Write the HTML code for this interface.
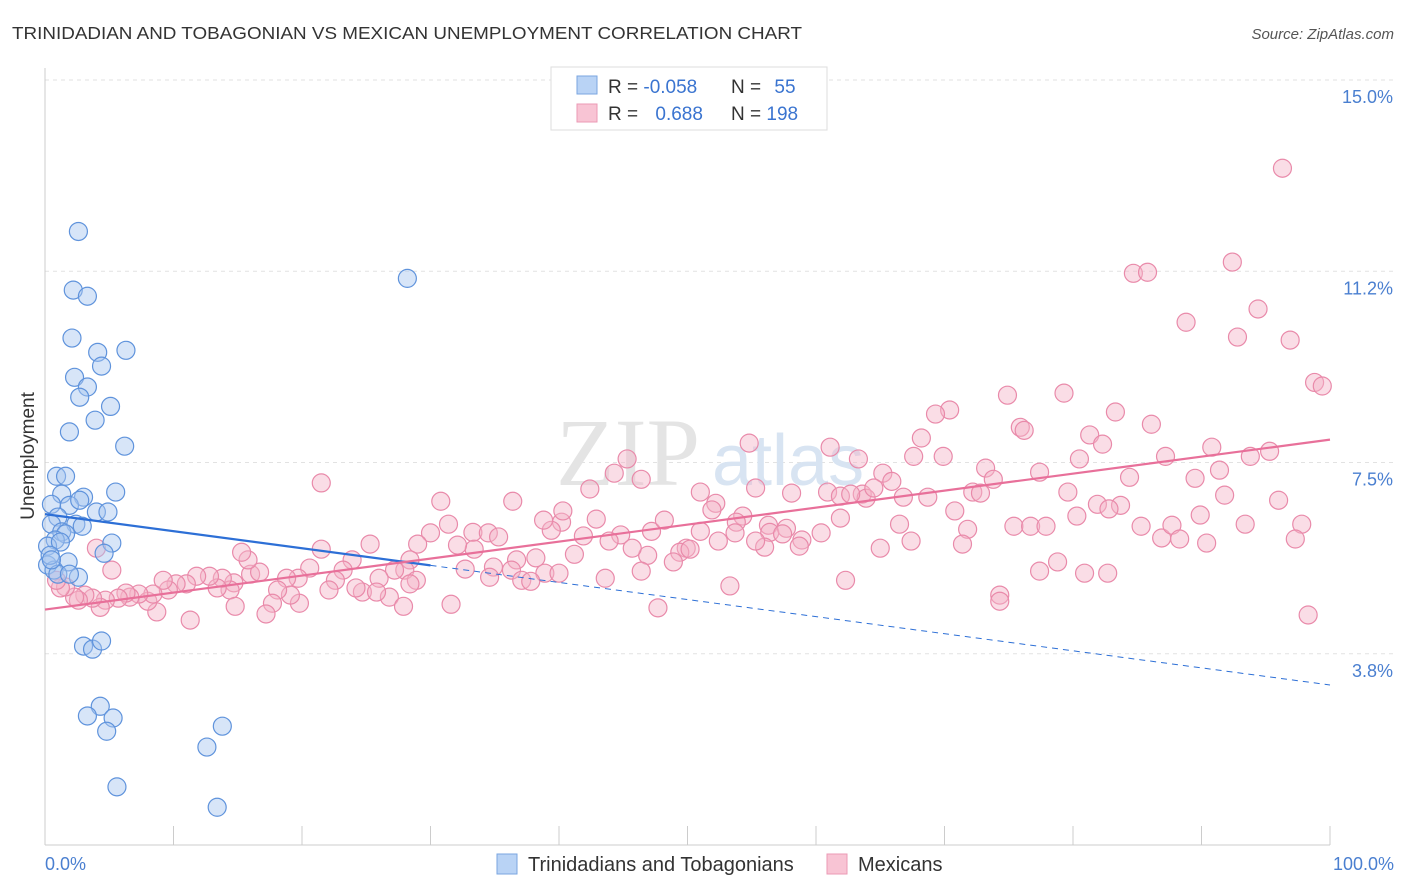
<!DOCTYPE html>
<html><head><meta charset="utf-8">
<style>
body{margin:0;background:#fff;font-family:"Liberation Sans",sans-serif;}
#wrap{position:relative;width:1406px;height:892px;overflow:hidden;}
svg{position:absolute;left:0;top:0;}
</style></head>
<body>
<div id="wrap">
<svg id="chart" width="1406" height="892">
  <text x="12" y="39" font-size="17.5" fill="#333" textLength="790" lengthAdjust="spacingAndGlyphs">TRINIDADIAN AND TOBAGONIAN VS MEXICAN UNEMPLOYMENT CORRELATION CHART</text>
  <text x="1394" y="39" font-size="15" fill="#555" font-style="italic" text-anchor="end">Source: ZipAtlas.com</text>
  <g id="grid"></g>
  <text x="700" y="485" font-size="96" fill="#e4e4e4" font-family="Liberation Serif" text-anchor="end">ZIP</text>
  <text x="712" y="485" font-size="72" fill="#d8e4f2">atlas</text>
  <line x1="45" y1="68" x2="45" y2="845" stroke="#ccc"/>
  <line x1="45" y1="845" x2="1330" y2="845" stroke="#ccc"/>
  <g id="xticks"></g>
  <g id="ylabels"></g>
  <text x="34" y="456" font-size="19" fill="#333" text-anchor="middle" transform="rotate(-90 34 456)">Unemployment</text>
  <text x="45" y="870" font-size="18" fill="#4a7fd0">0.0%</text>
  <text x="1394" y="870" font-size="18" fill="#4a7fd0" text-anchor="end">100.0%</text>
  <g id="pink"></g>
  <g id="blue"></g>
  <g id="trends"></g>
  <g>
    <rect x="551" y="67" width="276" height="63" fill="#fff" stroke="#ddd"/>
    <rect x="577" y="76" width="20" height="18" fill="#b9d3f5" stroke="#7aa6e0"/>
    <rect x="577" y="104" width="20" height="18" fill="#f8c4d4" stroke="#eb9ab5"/>
    <text x="608" y="93" font-size="19" fill="#333">R = <tspan fill="#3a74d0">-0.058</tspan></text>
    <text x="731" y="93" font-size="19" fill="#333">N = <tspan fill="#3a74d0" dx="8">55</tspan></text>
    <text x="608" y="120" font-size="19" fill="#333">R = <tspan fill="#3a74d0" dx="12">0.688</tspan></text>
    <text x="731" y="120" font-size="19" fill="#333">N = <tspan fill="#3a74d0">198</tspan></text>
  </g>
  <g>
    <rect x="497" y="854" width="20" height="20" fill="#b9d3f5" stroke="#7aa6e0"/>
    <text x="528" y="871" font-size="20" fill="#333">Trinidadians and Tobagonians</text>
    <rect x="827" y="854" width="20" height="20" fill="#f8c4d4" stroke="#eb9ab5"/>
    <text x="858" y="871" font-size="20" fill="#333">Mexicans</text>
  </g>
</svg>
</div>
<script>
const yTicks=[3.75,7.5,11.25,15];
const yTickLabels=["3.8%","7.5%","11.2%","15.0%"];
const xTicks=[0,10,20,30,40,50,60,70,80,90,100];
const blueX=[2.6,2.2,3.3,2.1,4.1,6.3,4.4,2.3,3.3,2.7,5.1,3.9,1.9,6.2,28.2,0.9,1.6,5.5,1.3,3.0,0.5,1.9,2.7,4.0,4.9,1.0,2.4,2.9,0.5,1.3,1.6,0.8,0.2,1.2,5.2,4.6,0.2,1.8,0.7,1.0,2.6,1.9,3.0,3.7,4.4,4.3,3.3,5.3,4.8,13.8,12.6,5.6,13.4,0.4,0.5];
const blueY=[12.03,10.88,10.76,9.94,9.66,9.70,9.39,9.17,8.98,8.78,8.60,8.33,8.10,7.82,11.11,7.23,7.23,6.92,6.88,6.82,6.68,6.66,6.76,6.53,6.53,6.43,6.29,6.25,6.29,6.14,6.10,5.98,5.86,5.94,5.92,5.72,5.49,5.55,5.39,5.31,5.25,5.31,3.90,3.84,4.00,2.72,2.53,2.49,2.23,2.33,1.92,1.14,0.74,5.68,5.59];
const pinkX=[96.3,92.4,84.7,85.8,88.8,94.4,92.8,96.9,98.8,99.4,74.9,79.3,70.4,69.3,83.3,86.1,75.9,76.2,81.3,82.3,68.2,54.8,61.1,90.8,87.2,95.3,93.8,69.9,67.6,63.3,45.3,44.3,46.4,65.2,65.9,73.2,73.8,77.4,80.5,84.4,89.5,91.4,91.8,96.0,81.9,83.7,79.6,72.2,72.8,68.7,66.8,63.6,63.9,60.9,61.9,58.1,55.3,51.0,52.2,51.9,54.3,53.8,56.3,56.4,57.7,57.4,58.9,60.4,61.9,62.7,64.5,66.5,67.4,70.8,71.8,75.4,76.7,77.9,80.3,82.8,85.3,86.9,87.7,88.3,90.4,89.9,93.4,97.8,97.3,98.3,74.3,78.8,80.9,71.4,65.0,58.7,56.0,49.9,49.4,50.2,48.9,46.9,47.2,48.2,44.8,43.9,45.7,42.9,41.9,41.2,40.2,39.4,38.8,40.3,36.7,36.3,37.1,38.2,38.9,40.0,37.8,34.9,34.6,33.3,33.4,32.1,32.7,31.4,30.8,34.5,35.3,36.4,42.4,51.0,52.4,53.7,55.3,46.4,43.6,47.7,53.3,62.3,31.6,30.0,29.0,28.4,28.0,28.9,27.2,26.0,25.3,23.9,23.2,22.6,22.1,24.7,24.2,26.8,27.9,28.4,25.8,21.5,20.6,19.7,18.8,19.8,19.1,18.1,17.7,17.2,16.0,16.7,15.8,15.3,14.7,14.4,13.8,13.4,12.8,11.8,11.0,10.2,9.6,9.2,8.7,8.0,8.4,7.3,6.6,6.3,5.7,5.2,4.7,4.3,3.7,3.1,2.6,2.3,1.6,1.2,0.9,4.0,11.3,14.8,21.5,74.3,82.7,77.4];
const pinkY=[13.27,11.43,11.21,11.23,10.25,10.51,9.96,9.90,9.07,9.00,8.82,8.86,8.53,8.45,8.49,8.25,8.19,8.13,8.04,7.86,7.98,7.88,7.80,7.80,7.62,7.72,7.62,7.62,7.62,7.57,7.57,7.29,7.17,7.29,7.13,7.39,7.17,7.31,7.57,7.21,7.19,7.35,6.86,6.76,6.68,6.66,6.92,6.92,6.90,6.82,6.82,6.88,6.80,6.92,6.84,6.90,7.00,6.92,6.70,6.57,6.45,6.33,6.27,6.13,6.21,6.10,5.98,6.12,6.41,6.88,7.00,6.29,5.96,6.55,6.19,6.25,6.25,6.25,6.45,6.59,6.25,6.02,6.27,6.00,5.92,6.47,6.29,6.29,6.00,4.51,4.90,5.55,5.33,5.90,5.82,5.86,5.84,5.82,5.74,5.80,5.55,5.68,6.15,6.37,6.08,5.96,5.82,6.39,6.06,5.70,6.33,6.17,6.37,6.55,5.59,5.39,5.19,5.63,5.33,5.33,5.17,5.45,5.25,6.13,5.80,5.88,5.41,6.29,6.74,6.12,6.04,6.74,6.98,6.15,5.96,6.12,5.96,5.37,5.23,4.65,5.08,5.19,4.72,6.12,5.90,5.59,5.39,5.19,5.39,5.23,5.90,5.59,5.39,5.19,5.00,4.96,5.04,4.86,4.68,5.12,4.96,5.80,5.43,5.23,5.23,4.74,4.90,5.00,4.74,4.53,5.31,5.35,5.59,5.74,5.14,5.00,5.23,5.04,5.27,5.27,5.12,5.12,5.00,5.19,4.57,4.78,4.92,4.92,4.86,4.94,4.84,5.39,4.80,4.66,4.84,4.90,4.80,4.86,5.06,5.04,5.19,5.82,4.41,4.68,7.10,4.78,5.33,5.37];

const NS="http://www.w3.org/2000/svg";
const X0=45,X1=1330,Y0=845,Ytop=80,YMAX=15;
const sx=v=>X0+(X1-X0)*v/100;
const sy=v=>Y0-(Y0-Ytop)*v/YMAX;
function mk(tag,attrs,parent){const e=document.createElementNS(NS,tag);for(const k in attrs)e.setAttribute(k,attrs[k]);parent.appendChild(e);return e;}
const grid=document.getElementById('grid'),ylab=document.getElementById('ylabels'),xt=document.getElementById('xticks');
yTicks.forEach((t,i)=>{
  const l=mk('line',{x1:X0,x2:1394,y1:sy(t),y2:sy(t),stroke:'#e2e2e2','stroke-dasharray':'4,4'},grid);
  
  
  const tx=mk('text',{x:1393,y:sy(t)+23,'font-size':18,fill:'#4a7fd0','text-anchor':'end'},ylab);
  tx.textContent=yTickLabels[i];
  
  
});
xTicks.forEach(t=>{
  const l=mk('line',{x1:sx(t),x2:sx(t),y1:826,y2:845,stroke:'#ccc'},xt);
  
  
});
function dots(xs,ys,g,fill,stroke,name){
  xs.forEach((x,i)=>{
    const c=mk('circle',{cx:sx(x),cy:sy(ys[i]),r:9,fill:fill,'fill-opacity':0.45,stroke:stroke,'stroke-width':1.2},g);
    
    
  });
}
dots(pinkX,pinkY,document.getElementById('pink'),'#f5b3c8','#e98aaa','mexican-point');
dots(blueX,blueY,document.getElementById('blue'),'#a7c6f0','#5f93dc','trinidadian-point');
function reg(xs,ys){const n=xs.length;let mx=0,my=0;xs.forEach((x,i)=>{mx+=x;my+=ys[i];});mx/=n;my/=n;let num=0,den=0;xs.forEach((x,i)=>{num+=(x-mx)*(ys[i]-my);den+=(x-mx)*(x-mx);});const b=num/den;return [my-b*mx,b];}
const tg=document.getElementById('trends');
const [ba,bb]=reg(blueX,blueY);
const bl1=mk('line',{x1:sx(0),y1:sy(ba),x2:sx(30),y2:sy(ba+bb*30),stroke:'#2d6fd6','stroke-width':2.2},tg);


const bl2=mk('line',{x1:sx(30),y1:sy(ba+bb*30),x2:sx(100),y2:sy(ba+bb*100),stroke:'#2d6fd6','stroke-width':1,'stroke-dasharray':'6,5'},tg);


const [pa,pb]=reg(pinkX,pinkY);
const pl=mk('line',{x1:sx(0),y1:sy(pa),x2:sx(100),y2:sy(pa+pb*100),stroke:'#e8709a','stroke-width':2.2},tg);


</script>
</body></html>
